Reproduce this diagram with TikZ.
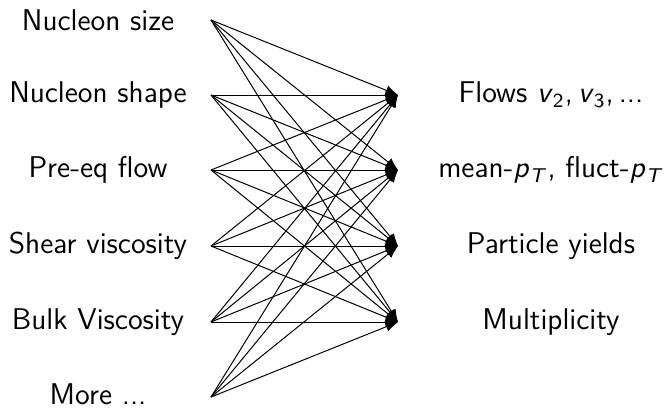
\documentclass[tikz,border=0pt]{standalone}
\usetikzlibrary{arrows.meta}
\begin{document}
\begin{tikzpicture}[x=0.4pt,y=-0.4pt,
  lab/.style={font=\sffamily\fontsize{12}{14}\selectfont, anchor=center, inner sep=0pt},
  conn/.style={-{Latex[length=5pt,width=4pt]}, line width=0.4pt},
  pt/.style={inner sep=0pt, minimum size=0pt}]
\useasboundingbox (0,0) rectangle (665,409);
% left labels
\node[lab] (l1) at (98,20) {Nucleon size};
\node[lab] (l2) at (98,95) {Nucleon shape};
\node[lab] (l3) at (98,170) {Pre-eq flow};
\node[lab] (l4) at (98,246) {Shear viscosity};
\node[lab] (l5) at (98,322) {Bulk Viscosity};
\node[lab] (l6) at (98,394) {More ...};
% right labels
\node[lab] (r1) at (551,95) {Flows \textit{v}\textsubscript{2},\,\textit{v}\textsubscript{3},\,...};
\node[lab] (r2) at (551,170) {mean-\textit{p}\textsubscript{\textit{T}}, fluct-\textit{p}\textsubscript{\textit{T}}};
\node[lab] (r3) at (551,246) {Particle yields};
\node[lab] (r4) at (551,322) {Multiplicity};
% source points
\coordinate (s1) at (211,20);
\coordinate (s2) at (211,95);
\coordinate (s3) at (211,170);
\coordinate (s4) at (211,246);
\coordinate (s5) at (211,322);
\coordinate (s6) at (211,397);
% target points
\coordinate (t1) at (398,95);
\coordinate (t2) at (398,170);
\coordinate (t3) at (398,246);
\coordinate (t4) at (398,322);
\foreach \s in {1,...,6}{
  \foreach \t in {1,...,4}{
    \draw[conn] (s\s) -- (t\t);
  }
}
\end{tikzpicture}
\end{document}
